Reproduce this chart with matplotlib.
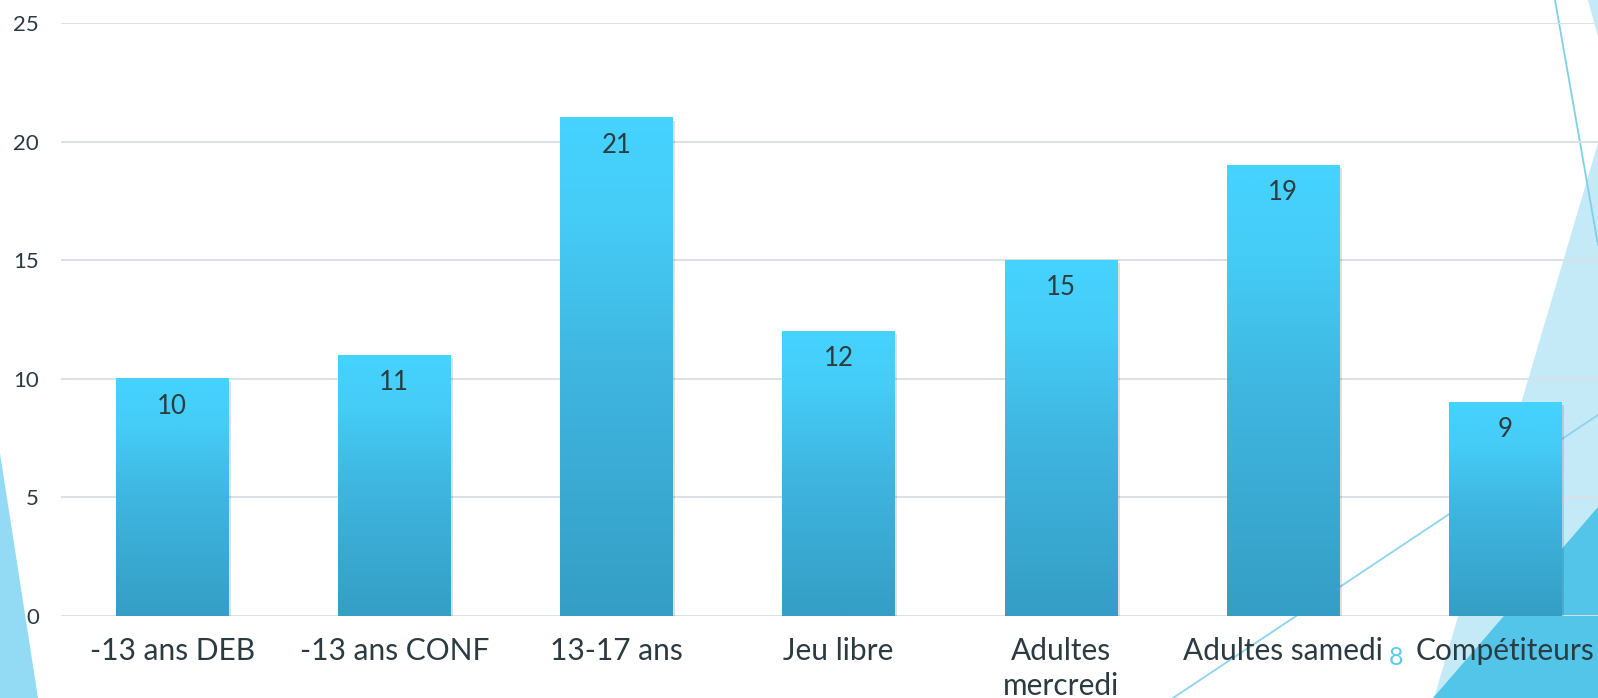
import numpy as np
import matplotlib.pyplot as plt
import matplotlib.patheffects as pe
from matplotlib.colors import LinearSegmentedColormap
from matplotlib.patches import Polygon

plt.rcParams['font.family'] = ['Lato', 'DejaVu Sans']

# data
categories = ['-13 ans DEB', '-13 ans CONF', '13-17 ans', 'Jeu libre',
              'Adultes\nmercredi', 'Adultes samedi', 'Compétiteurs']
values = [10, 11, 21, 12, 15, 19, 9]
yticks = [0, 5, 10, 15, 20, 25]
page_number = '8'

text_color = '#2c3b42'
W, H = 1598, 698

fig = plt.figure(figsize=(W / 100, H / 100), dpi=100)

# slide decoration (pixel coordinates of the slide)
bg = fig.add_axes([0, 0, 1, 1], zorder=0)
bg.set_xlim(0, W)
bg.set_ylim(H, 0)
bg.axis('off')
bg.add_patch(Polygon([(0, 453), (38, H), (0, H)], closed=True, color='#93dbf4', lw=0))
bg.add_patch(Polygon([(1588, 0), (W, 0), (W, 37)], closed=True, color='#c5eaf7', lw=0))
bg.add_patch(Polygon([(W, 143), (1434, H), (W, H)], closed=True, color='#c5eaf7', lw=0))
bg.add_patch(Polygon([(W, 507), (1433, H), (W, H)], closed=True, color='#52c5e9', lw=0))
bg.plot([1555, W], [0, 245], color='#80cfe8', lw=1.3)
bg.plot([1173, W], [H, 415], color='#8dd3ea', lw=1.3)

# chart
ax = fig.add_axes([61 / W, (H - 616) / H, (1616 - 61) / W, (616 - 23) / H], zorder=1)
ax.patch.set_alpha(0)

cmap = LinearSegmentedColormap.from_list(
    'bar', [(0, '#359ec5'), (0.5, '#3fb6e0'), (0.8, '#45ccf7'), (1.0, '#45d3ff')])

x = np.arange(len(categories))
bars = ax.bar(x, values, width=0.505, color='#3cb4de', zorder=2,
              path_effects=[pe.SimplePatchShadow(offset=(2, -2), shadow_rgbFace='black', alpha=0.12),
                            pe.Normal()])
grad = np.linspace(1, 0, 256).reshape(-1, 1)
for b in bars:
    x0, w, h = b.get_x(), b.get_width(), b.get_height()
    ax.imshow(grad, cmap=cmap, vmin=0, vmax=1, extent=(x0, x0 + w, 0, h),
              aspect='auto', origin='upper', zorder=3)

for xi, v in zip(x, values):
    ax.annotate(str(v), (xi, v), xytext=(0, -25), textcoords='offset points',
                ha='center', va='baseline', fontsize=18.5, color=text_color, zorder=4)

ax.set_xlim(-0.5, len(categories) - 0.5)
ax.set_ylim(0, 25)
ax.set_yticks(yticks)
ax.set_xticks(x)
ax.set_xticklabels(categories, linespacing=1.3)
ax.yaxis.grid(True, color='#d9e2e5', lw=1.4)
ax.set_axisbelow(True)
for s in ax.spines.values():
    s.set_visible(False)
ax.tick_params(axis='y', length=0, labelsize=16, pad=16, colors=text_color)
ax.tick_params(axis='x', length=0, labelsize=21.5, pad=15, colors=text_color)

fig.text(1396 / W, (H - 665) / H, page_number, ha='center', va='baseline',
         fontsize=18, color='#5ccaf0')

fig.savefig('out.png', dpi=100)
